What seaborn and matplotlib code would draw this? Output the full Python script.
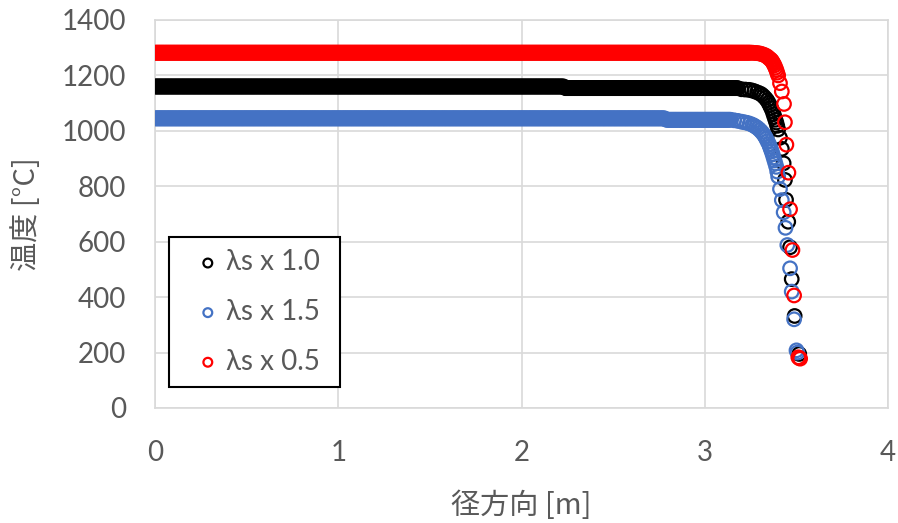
import numpy as np
import pandas as pd
import matplotlib
matplotlib.use("Agg")
import matplotlib.pyplot as plt
import seaborn as sns

# Radial temperature profiles for three solid conductivity factors
series_names = ["λs x 1.0", "λs x 1.5", "λs x 0.5"]
series_colors = ["#000000", "#4472C4", "#FF0000"]

# Uniform radial mesh spacing of the core region [m]
mesh_step = 0.005

# Core plateau segments: (r_start, r_end, temperature)
plateau_10 = [(0.0, 2.23, 1160), (2.24, 3.18, 1154)]
plateau_15 = [(0.0, 2.78, 1045), (2.79, 3.14, 1040)]
plateau_05 = [(0.0, 3.25, 1282)]

# Near-wall nodes
r_tail_10 = [3.20, 3.22, 3.24, 3.255, 3.27, 3.285, 3.30, 3.31, 3.32, 3.33, 3.34,
             3.348, 3.355, 3.362, 3.37, 3.375, 3.38, 3.385, 3.39, 3.395, 3.40,
             3.41, 3.42, 3.43, 3.437, 3.443, 3.455, 3.465, 3.474, 3.49, 3.515]
t_tail_10 = [1150, 1149, 1148, 1146, 1143, 1139, 1135, 1131, 1125, 1118, 1110,
             1101, 1092, 1082, 1070, 1060, 1050, 1040, 1030, 1018, 1005,
             975, 935, 883, 823, 751, 672, 580, 465, 332, 195]

r_tail_15 = [3.16, 3.18, 3.20, 3.215, 3.23, 3.245, 3.26, 3.27, 3.28, 3.29, 3.30,
             3.31, 3.32, 3.328, 3.335, 3.342, 3.35, 3.355, 3.36, 3.365, 3.37,
             3.375, 3.38, 3.385, 3.39, 3.395, 3.40, 3.41, 3.42, 3.43, 3.44, 3.45,
             3.465, 3.474, 3.487, 3.50, 3.505]
t_tail_15 = [1038, 1036, 1033, 1031, 1029, 1026, 1022, 1018, 1014, 1009, 1003,
             996, 988, 980, 972, 962, 952, 943, 934, 925, 915,
             904, 893, 882, 870, 853, 835, 790, 750, 706, 650, 588,
             504, 420, 320, 208, 200]

r_tail_05 = [3.26, 3.27, 3.28, 3.29, 3.30, 3.31, 3.32, 3.33, 3.338, 3.345, 3.352,
             3.36, 3.365, 3.37, 3.375, 3.38, 3.385, 3.39, 3.395, 3.40, 3.41,
             3.42, 3.432, 3.437, 3.445, 3.456, 3.465, 3.478, 3.487, 3.51, 3.515,
             3.52]
t_tail_05 = [1282, 1281, 1281, 1280, 1279, 1277, 1275, 1272, 1269, 1265, 1261,
             1257, 1253, 1248, 1242, 1236, 1228, 1220, 1210, 1200, 1172,
             1142, 1097, 1031, 950, 849, 717, 570, 406, 183, 180, 178]


def build_profile(plateau, r_tail, t_tail):
    r_vals, t_vals = [], []
    for r0, r1, temp in plateau:
        nodes = np.arange(r0, r1 + 1e-9, mesh_step)
        r_vals.extend(nodes)
        t_vals.extend([temp] * len(nodes))
    r_vals.extend(r_tail)
    t_vals.extend(t_tail)
    return np.array(r_vals), np.array(t_vals)


profiles = [
    build_profile(plateau_10, r_tail_10, t_tail_10),
    build_profile(plateau_15, r_tail_15, t_tail_15),
    build_profile(plateau_05, r_tail_05, t_tail_05),
]

frames = []
for name, (r, t) in zip(series_names, profiles):
    frames.append(pd.DataFrame({"r": r, "T": t, "case": name}))
df = pd.concat(frames, ignore_index=True)

sns.set_theme(style="white")
text_color = "#595959"
grid_color = "#D9D9D9"
plt.rcParams["font.family"] = ["Lato", "DejaVu Sans", "Noto Sans CJK JP"]

fig = plt.figure(figsize=(8.98, 5.23), dpi=100)
ax = fig.add_axes([0.1726, 0.2199, 0.8164, 0.7419])

marker_lw = 1.6
for name, color in zip(series_names, series_colors):
    sub = df[df["case"] == name]
    sns.scatterplot(data=sub, x="r", y="T", ax=ax, marker="o", s=95,
                    facecolors="none", edgecolors=color, linewidth=marker_lw,
                    label=name, zorder=3)

for coll, color in zip(ax.collections, series_colors):
    coll.set_facecolor("none")
    coll.set_edgecolor(color)
    coll.set_linewidth(marker_lw)

ax.set_xlim(0, 4)
ax.set_ylim(0, 1400)
ax.set_xticks([0, 1, 2, 3, 4])
ax.set_yticks(np.arange(0, 1401, 200))
ax.grid(True, color=grid_color, linewidth=1.2, zorder=0)
ax.set_axisbelow(True)
for side in ["top", "right", "bottom", "left"]:
    ax.spines[side].set_color(grid_color)
    ax.spines[side].set_linewidth(1.2)

ax.tick_params(axis="both", length=0, labelsize=20, labelcolor=text_color)
ax.tick_params(axis="y", pad=21)
ax.tick_params(axis="x", pad=23)

ax.set_xlabel("径方向 [m]", fontsize=21, color=text_color, labelpad=18,
              family=["Noto Sans CJK JP", "DejaVu Sans"])
ax.set_ylabel("温度 [°C]", fontsize=21, color=text_color, labelpad=14,
              family=["Noto Sans CJK JP", "DejaVu Sans"])

leg = ax.legend(loc="lower left", bbox_to_anchor=(0.019, 0.054, 0.233, 0.387),
                mode="expand", borderaxespad=0, fontsize=20, frameon=True,
                fancybox=False, framealpha=1, edgecolor="black",
                markerscale=0.65, handletextpad=-0.3, labelspacing=0.85,
                borderpad=0.45, handlelength=1.9)
leg.get_frame().set_linewidth(1.5)
for txt in leg.get_texts():
    txt.set_color(text_color)

fig.savefig("out.png", dpi=100)
